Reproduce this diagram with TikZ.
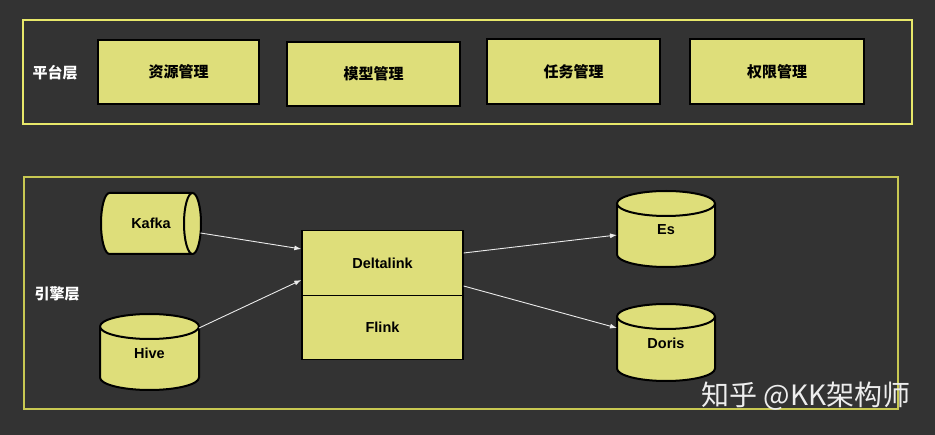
\documentclass[tikz,border=0pt]{standalone}
\usepackage{fontspec}
\setmainfont{Liberation Sans}
\newfontfamily\cjk{Noto Sans CJK SC}
\usepackage{tikz}
\usetikzlibrary{calc,shapes,arrows.meta}
\definecolor{bgdark}{HTML}{333333}
\definecolor{boxfill}{HTML}{DEDE7A}
\definecolor{frametop}{HTML}{E8E86A}
\definecolor{framebottom}{HTML}{C8C852}
\tikzstyle{layerframe}=[rectangle,line width=1.2pt,inner sep=0pt]
\tikzstyle{layerlabel}=[text=white,font=\cjk\bfseries\fontsize{15}{17}\selectfont]
\tikzstyle{modulebox}=[rectangle,draw=black,fill=boxfill,line width=1.3pt,
                       font=\cjk\bfseries\fontsize{15}{17}\selectfont,inner sep=0pt]
\tikzstyle{enginebox}=[rectangle,draw=black,fill=boxfill,line width=1.3pt,
                       font=\bfseries\fontsize{14.5}{16}\selectfont,inner sep=0pt,
                       minimum width=161pt,minimum height=64.5pt]
\tikzstyle{storecyl}=[cylinder,draw=black,fill=boxfill,line width=2pt,
                      inner sep=0pt,text width=40pt,text height=10pt,text depth=10pt,
                      anchor=shape center]
\tikzstyle{storetext}=[font=\bfseries\fontsize{14.5}{16}\selectfont,inner sep=0pt]
\tikzstyle{flow}=[draw=white!92!black,line width=0.9pt,-{Latex[length=7pt,width=5pt]}]

\begin{document}
\begin{tikzpicture}[x=1pt,y=-1pt]
	\fill[bgdark] (0,0) rectangle (935,435);
	\node [layerframe,draw=frametop,minimum width=889pt,minimum height=104pt] (Plataforma) at (467.5,72) {};
	\node [layerframe,draw=framebottom,minimum width=874pt,minimum height=232pt] (Motor) at (461,293) {};
	\node [layerlabel] (Etiqueta plataforma) at (55,73) {平台层};
	\node [layerlabel] (Etiqueta motor) at (57,294) {引擎层};
	\node [modulebox,minimum width=161pt,minimum height=64pt] (Recursos) at (178.5,72) {资源管理};
	\node [modulebox,minimum width=173pt,minimum height=64pt] (Modelos) at (373.5,74) {模型管理};
	\node [modulebox,minimum width=173pt,minimum height=65pt] (Tareas) at (573.5,71.5) {任务管理};
	\node [modulebox,minimum width=174pt,minimum height=65pt] (Permisos) at (777,71.5) {权限管理};
	\node [enginebox] (Deltalink) at (382.5,263) {Deltalink};
	\node [enginebox] (Flink) at (382.5,327.5) {Flink};
	\node [storecyl,aspect=0.85,minimum width=61pt,minimum height=100pt] (Kafka) at (151,223.5) {};
	\node [storecyl,shape border rotate=90,aspect=0.625,minimum width=99pt,minimum height=76pt] (Hive) at (149.5,352) {};
	\node [storecyl,shape border rotate=90,aspect=0.625,minimum width=98pt,minimum height=76pt] (Es) at (666,229) {};
	\node [storecyl,shape border rotate=90,aspect=0.625,minimum width=98pt,minimum height=77pt] (Doris) at (666,342.5) {};
	\node [storetext] (Kafka texto) at (Kafka.shape center) {Kafka};
	\node [storetext] (Hive texto) at ($(Hive.shape center)+(0,1)$) {Hive};
	\node [storetext] (Es texto) at ($(Es.shape center)+(0,1)$) {Es};
	\node [storetext] (Doris texto) at ($(Doris.shape center)+(0,1)$) {Doris};
	\draw [flow] ($(Kafka.shape center)+(49.5,9.5)$) -- ($(Deltalink.west)+(0,-14)$);
	\draw [flow] ($(Hive.shape center)+(49.5,-24)$) -- ($(Deltalink.west)+(0,17)$);
	\draw [flow] ($(Deltalink.east)+(0,-10)$) -- ($(Es.shape center)+(-49,6)$);
	\draw [flow] ($(Deltalink.east)+(0,23)$) -- ($(Doris.shape center)+(-49,-14.5)$);
	\node [text=white!93!black,font=\cjk\fontsize{28}{30}\selectfont] (Marca) at (806,396) {知乎 @KK架构师};
\end{tikzpicture}
\end{document}
